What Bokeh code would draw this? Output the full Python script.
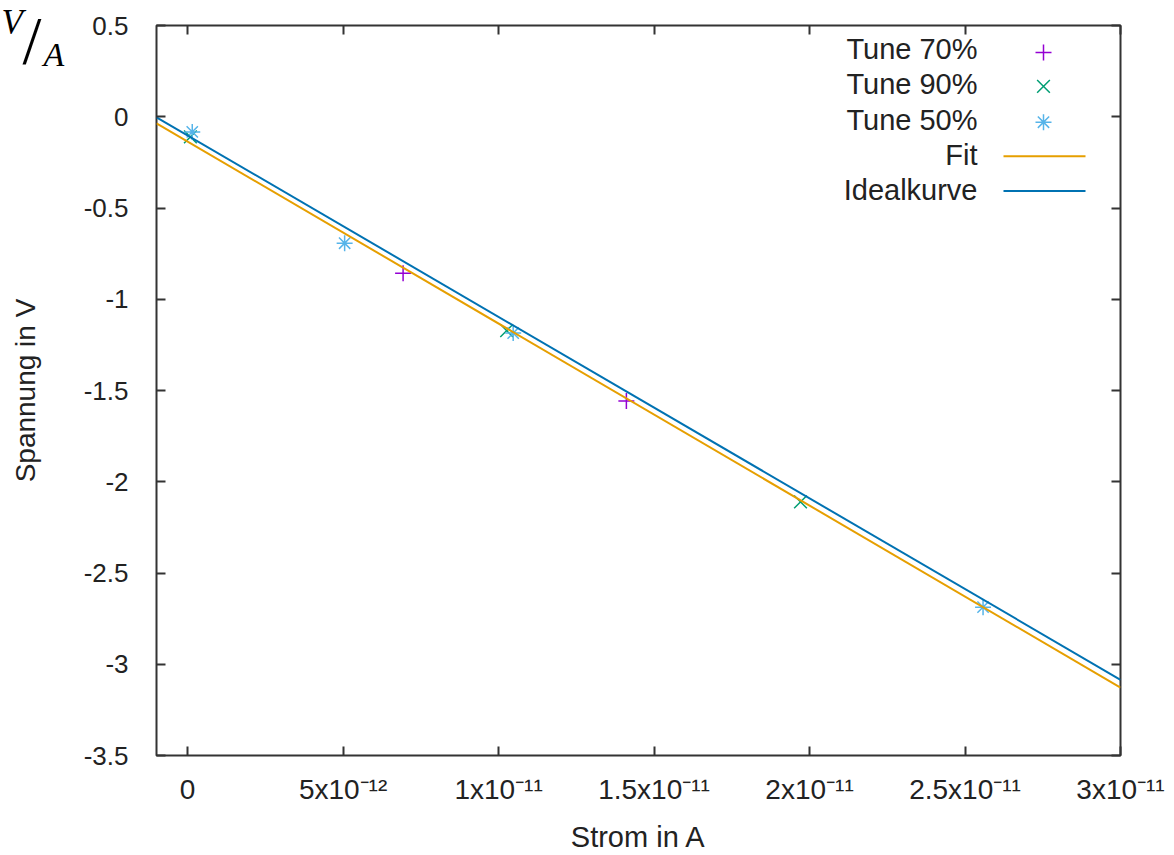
import math
from bokeh.plotting import figure
from bokeh.layouts import row
from bokeh.models import FixedTicker, LinearAxis, Range1d, Label
from bokeh.core.properties import value
from bokeh.embed import file_html
from bokeh.resources import INLINE

# ---------------- data ----------------
tune70_x = [6.93e-12, 14.11e-12]
tune70_y = [-0.857, -1.558]
tune90_x = [0.09e-12, 10.26e-12, 19.71e-12]
tune90_y = [-0.110, -1.172, -2.110]
tune50_x = [0.15e-12, 5.05e-12, 10.47e-12, 25.58e-12]
tune50_y = [-0.083, -0.693, -1.185, -2.687]
fit_x = [-1e-12, 3e-11]
fit_y = [-0.036, -3.128]
ideal_x = [-1e-12, 3e-11]
ideal_y = [-0.003, -3.085]

x_ticks = [0, 5e-12, 1e-11, 1.5e-11, 2e-11, 2.5e-11, 3e-11]
x_tick_labels = ["0", "5x10⁻¹²", "1x10⁻¹¹", "1.5x10⁻¹¹", "2x10⁻¹¹", "2.5x10⁻¹¹", "3x10⁻¹¹"]
y_ticks = [0.5, 0, -0.5, -1, -1.5, -2, -2.5, -3, -3.5]
y_tick_labels = ["0.5", "0", "-0.5", "-1", "-1.5", "-2", "-2.5", "-3", "-3.5"]
legend_labels = ["Tune 70%", "Tune 90%", "Tune 50%", "Fit", "Idealkurve"]
x_title = "Strom in A"
y_title = "Spannung in V"

# ---------------- style ----------------
C70, C90, C50, CFIT, CIDEAL = "#9400d3", "#009e73", "#56b4e9", "#e69f00", "#0072b2"
FONT = "Liberation Sans"
TXT = "#222222"
X0, X1 = -1e-12, 3e-11
Y0, Y1 = -3.5, 0.5
W, H = 1174, 855
LW = 72  # width of the left strip holding the unit note and the y title

# frame position in page pixels (used for legend placement only)
FL, FR, FT, FB = 156, 1120, 25, 757


def dx(px):
    return X0 + (px - FL) / (FR - FL) * (X1 - X0)


def dy(py):
    return Y1 - (py - FT) / (FB - FT) * (Y1 - Y0)


# ---------------- left strip: V/A note + y title ----------------
left = figure(width=LW, height=H, x_range=Range1d(0, LW), y_range=Range1d(H, 0),
              x_axis_type=None, y_axis_type=None,
              output_backend="svg", toolbar_location=None,
              min_border=0, min_border_left=0, min_border_right=0,
              min_border_top=0, min_border_bottom=0)
if "frame_align" in left.properties():
    left.frame_align = False
left.grid.visible = False
left.outline_line_color = None
left.background_fill_color = "white"
left.border_fill_color = "white"
left.text(x=[1], y=[22], text=["V"], text_font=value("Liberation Serif"),
          text_font_style="italic", text_font_size="35px", text_color="#000000",
          text_baseline="middle")
left.text(x=[22], y=[39], text=["/"], text_font=value("Liberation Serif"),
          text_font_size="68px", text_color="#000000", text_baseline="middle")
left.text(x=[43], y=[54], text=["A"], text_font=value("Liberation Serif"),
          text_font_style="italic", text_font_size="34px", text_color="#000000",
          text_baseline="middle")
left.text(x=[25], y=[390], text=[y_title], angle=math.pi / 2, text_font=value(FONT),
          text_font_size="28px", text_color=TXT, text_align="center",
          text_baseline="middle")

# ---------------- main plot ----------------
p = figure(width=W - LW, height=H, x_range=Range1d(X0, X1), y_range=Range1d(Y0, Y1),
           output_backend="svg", toolbar_location=None,
           min_border_left=FL - LW, min_border_right=W - FR, min_border_top=FT,
           min_border_bottom=H - FB, x_axis_label=x_title)
p.grid.visible = False
p.outline_line_color = "#333333"
p.outline_line_width = 2
p.background_fill_color = "white"
p.border_fill_color = "white"


def style_axis(ax, ticks, labels, size):
    ax.ticker = FixedTicker(ticks=ticks)
    ax.major_label_overrides = dict(zip(ticks, labels))
    ax.major_tick_in = 9
    ax.major_tick_out = 0
    ax.minor_tick_line_color = None
    ax.major_tick_line_color = "#333333"
    ax.major_tick_line_width = 2
    ax.axis_line_color = None
    ax.major_label_text_font = FONT
    ax.major_label_text_font_size = size
    ax.major_label_text_color = TXT
    ax.axis_label_text_font = FONT
    ax.axis_label_text_font_style = "normal"
    ax.axis_label_text_font_size = "29px"
    ax.axis_label_text_color = TXT


style_axis(p.xaxis[0], x_ticks, x_tick_labels, "28px")
style_axis(p.yaxis[0], y_ticks, y_tick_labels, "26px")
p.xaxis[0].major_label_standoff = 18
p.xaxis[0].axis_label_standoff = 13
p.yaxis[0].major_label_standoff = 28

# mirrored inward ticks on right and top
r_ax = LinearAxis()
style_axis(r_ax, y_ticks, [""] * len(y_ticks), "0px")
r_ax.major_label_standoff = 0
p.add_layout(r_ax, "right")
t_ax = LinearAxis()
style_axis(t_ax, x_ticks, [""] * len(x_ticks), "0px")
t_ax.major_label_standoff = 0
p.add_layout(t_ax, "above")

# ---------------- data marks ----------------
p.scatter(tune70_x, tune70_y, marker="cross", size=16, line_color=C70, line_width=1.5)
p.scatter(tune90_x, tune90_y, marker="x", size=18, line_color=C90, line_width=1.5)
p.scatter(tune50_x, tune50_y, marker="asterisk", size=16, line_color=C50, line_width=1.5)
p.line(fit_x, fit_y, line_color=CFIT, line_width=2)
p.line(ideal_x, ideal_y, line_color=CIDEAL, line_width=2)

# ---------------- legend (gnuplot style: text right-aligned, sample to the right) ----------------
text_rows = [49, 84, 120, 155, 190]
for lab, rr in zip(legend_labels, text_rows):
    p.add_layout(Label(x=dx(977), y=dy(rr), text=lab, text_align="right",
                       text_baseline="middle", text_font=FONT, text_font_size="29px",
                       text_color=TXT))
p.scatter([dx(1043)], [dy(52)], marker="cross", size=16, line_color=C70, line_width=1.5)
p.scatter([dx(1043)], [dy(86)], marker="x", size=18, line_color=C90, line_width=1.5)
p.scatter([dx(1043)], [dy(122)], marker="asterisk", size=16, line_color=C50, line_width=1.5)
p.line([dx(1003), dx(1085)], [dy(156), dy(156)], line_color=CFIT, line_width=2)
p.line([dx(1003), dx(1085)], [dy(191), dy(191)], line_color=CIDEAL, line_width=2)

layout = row(left, p, spacing=0)
open("out.html", "w").write(file_html(layout, INLINE))
